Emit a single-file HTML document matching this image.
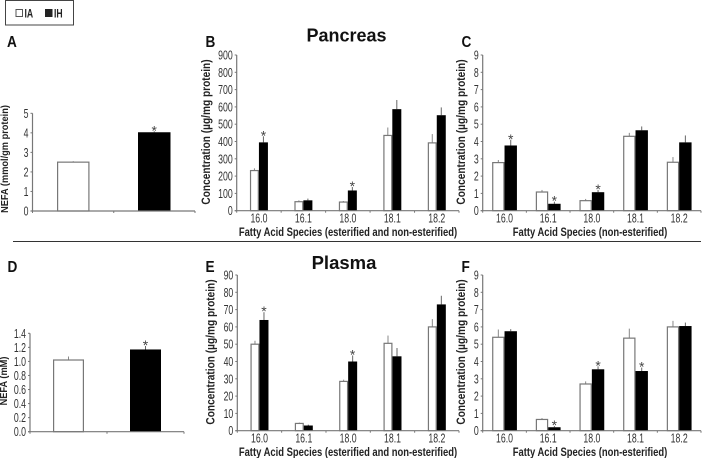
<!DOCTYPE html>
<html>
<head>
<meta charset="utf-8">
<style>
html,body{margin:0;padding:0;background:#fff;width:704px;height:458px;overflow:hidden}
svg{display:block;font-family:"Liberation Sans",sans-serif;filter:blur(0.35px)}
</style>
</head>
<body>
<svg id="fig" width="704" height="458" viewBox="0 0 704 458" xmlns="http://www.w3.org/2000/svg">
  <g>
    <rect x="5.5" y="0.5" width="68" height="24.5" fill="#fff" stroke="#444" stroke-width="1"/>
    <rect x="16" y="9.5" width="6.5" height="7" fill="#fff" stroke="#555" stroke-width="1"/>
    <text transform="translate(24.5,17.5) scale(.72,1)" font-size="12" font-weight="bold" fill="#222">IA</text>
    <rect x="45" y="9" width="7.5" height="8" fill="#222"/>
    <text transform="translate(54,17.5) scale(.72,1)" font-size="12" font-weight="bold" fill="#222">IH</text>
  </g>
  <line x1="13" y1="241.5" x2="701" y2="241.5" stroke="#333" stroke-width="1"/>
  <text x="346.5" y="41.5" font-size="18" font-weight="bold" text-anchor="middle" fill="#111">Pancreas</text>
  <text x="344" y="269" font-size="18.5" font-weight="bold" text-anchor="middle" fill="#111">Plasma</text>
</svg>
<script>
var speciesCategories = ['16.0','16.1','18.0','18.1','18.2'];

var ticksA = ['0','1','2','3','4','5'];
var ticksD = ['0.0','0.2','0.4','0.6','0.8','1.0','1.2','1.4'];
var ticksB = ['0','100','200','300','400','500','600','700','800','900'];
var ticksC = ['0','1','2','3','4','5','6','7','8','9'];
var ticksE = ['0','10','20','30','40','50','60','70','80','90'];
var ticksF = ['0','1','2','3','4','5','6','7','8','9'];

var iaA = [2.5];
var iaErrA = [0.05];
var ihA = [4.03];
var ihErrA = [0.05];
var sigA = [1];

var iaB = [232,52,50,435,392];
var iaErrB = [13,8,6,46,51];
var ihB = [395,60,117,587,552];
var ihErrB = [35,10,20,53,45];
var sigB = [1,0,1,0,0];

var iaC = [2.78,1.08,0.58,4.3,2.8];
var iaErrC = [0.15,0.12,0.1,0.2,0.3];
var ihC = [3.77,0.4,1.07,4.65,3.95];
var ihErrC = [0.33,0.12,0.13,0.22,0.4];
var sigC = [1,1,1,0,0];

var iaD = [1.02];
var iaErrD = [0.05];
var ihD = [1.17];
var ihErrD = [0.05];
var sigD = [1];

var iaE = [50,4.2,28.5,50.5,60];
var iaErrE = [2,0.5,1,4.5,4.5];
var ihE = [64,3,40,43,73];
var ihErrE = [4.5,0.5,3.5,4.8,5];
var sigE = [1,0,1,0,0];

var iaF = [5.4,0.65,2.7,5.35,6];
var iaErrF = [0.45,0.08,0.15,0.55,0.35];
var ihF = [5.75,0.2,3.55,3.45,6.05];
var ihErrF = [0.12,0.07,0.17,0.2,0.2];
var sigF = [0,1,1,1,0];

var svg = document.getElementById('fig');
var NS = 'http://www.w3.org/2000/svg';

function mk(tag, attrs, parent) {
  var el = document.createElementNS(NS, tag);
  for (var k in attrs) el.setAttribute(k, attrs[k]);
  parent.appendChild(el);
  return el;
}

function drawPanel(cfg) {
  var g = mk('g', {}, svg);
  
  

  var maxVal = parseFloat(cfg.ticks[cfg.ticks.length - 1]);
  function yScale(v) { return cfg.y0 - (v / maxVal) * (cfg.y0 - cfg.yTop); }
  var n = cfg.ia.length;
  var step = (cfg.xEnd - cfg.x0) / n;
  function xScale(i) { return cfg.x0 + step * (i + 0.5); }
  var colors = '#777';

  var letter = mk('text', {transform: 'translate(' + cfg.lx + ',' + cfg.ly + ') scale(.88,1)', 'font-size': 15.5, 'font-weight': 'bold', fill: '#111'}, g);
  letter.textContent = cfg.id;
  
  

  for (var i = 0; i < n; i++) {
    var c = xScale(i);
    var yIa = yScale(cfg.ia[i]);
    var yIh = yScale(cfg.ih[i]);
    var xIa = cfg.barOff ? c - cfg.barOff / 2 - cfg.barW : c - cfg.barW;
    var xIh = cfg.barOff ? c + cfg.barOff / 2 : c;
    var cIa = xIa + cfg.barW / 2;
    var cIh = xIh + cfg.barW / 2;

    var e1 = mk('line', {x1: cIa, x2: cIa, y1: yIa, y2: yScale(cfg.ia[i] + cfg.iaErr[i]), stroke: '#888', 'stroke-width': 1}, g);
    
    
    var e2 = mk('line', {x1: cIh, x2: cIh, y1: yIh, y2: yScale(cfg.ih[i] + cfg.ihErr[i]), stroke: '#666', 'stroke-width': 1}, g);
    
    

    var b1 = mk('rect', {x: xIa + 0.6, y: yIa, width: cfg.barW - 1.2, height: cfg.y0 - yIa, fill: '#fff', stroke: '#777', 'stroke-width': 1.2}, g);
    
    
    var b2 = mk('rect', {x: xIh, y: yIh, width: cfg.barW, height: cfg.y0 - yIh, fill: '#000'}, g);
    
    

    if (cfg.sig[i]) {
      var s = mk('text', {x: cIh, y: yScale(cfg.ih[i] + cfg.ihErr[i]) + 4, 'font-size': 14, 'text-anchor': 'middle', fill: '#444'}, g);
      s.textContent = '*';
      
      
    }

    if (cfg.cats) {
      var lab = mk('text', {transform: 'translate(' + c + ',' + (cfg.y0 + 12) + ') scale(.7,1)', 'font-size': 12.5, 'text-anchor': 'middle', fill: '#333'}, g);
      lab.textContent = cfg.cats[i];
      
      
    }
  }

  var yAxis = mk('line', {x1: cfg.x0, x2: cfg.x0, y1: cfg.yTop, y2: cfg.y0, stroke: colors, 'stroke-width': 1.2}, g);
  
  
  var xAxis = mk('line', {x1: cfg.x0 - 2, x2: cfg.xEnd, y1: cfg.y0, y2: cfg.y0, stroke: colors, 'stroke-width': 1.2}, g);
  
  

  for (var t = 0; t < cfg.ticks.length; t++) {
    var yy = yScale(parseFloat(cfg.ticks[t]));
    var tk = mk('line', {x1: cfg.x0 - 2, x2: cfg.x0, y1: yy, y2: yy, stroke: colors, 'stroke-width': 1}, g);
    
    
    var tl = mk('text', {transform: 'translate(' + (cfg.x0 - 4) + ',' + (yy + 4.5) + ') scale(.7,1)', 'font-size': 12.5, 'text-anchor': 'end', fill: '#333'}, g);
    tl.textContent = cfg.ticks[t];
    
    
  }
  var xTickCount = cfg.cats ? n + 1 : 3;
  for (var j = 0; j < xTickCount; j++) {
    var xx = cfg.x0 + (cfg.xEnd - cfg.x0) * j / (xTickCount - 1);
    var xt = mk('line', {x1: xx, x2: xx, y1: cfg.y0, y2: cfg.y0 + 2, stroke: colors, 'stroke-width': 1}, g);
    
    
  }

  var yt = mk('text', {transform: 'translate(' + cfg.ytx + ',' + cfg.yty + ') rotate(-90) scale(' + cfg.ytScale + ',1)', 'font-size': cfg.ytSize, 'font-weight': 'bold', 'text-anchor': 'middle', fill: '#222'}, g);
  yt.textContent = cfg.yTitle;
  
  

  if (cfg.xTitle) {
    var xtl = mk('text', {transform: 'translate(' + cfg.xtx + ',' + (cfg.y0 + 25.5) + ') scale(.82,1)', 'font-size': 11.5, 'font-weight': 'bold', 'text-anchor': 'middle', fill: '#222'}, g);
    xtl.textContent = cfg.xTitle;
    
    
  }
}

var concTitle = 'Concentration (\u00b5g/mg protein)';
var bothTitle = 'Fatty Acid Species (esterified and non-esterified)';
var nonTitle = 'Fatty Acid Species (non-esterified)';

drawPanel({id:'A', lx:7, ly:47, x0:32.5, xEnd:195, y0:211, yTop:113.3, barW:32.5, barOff:48.5, ticks:ticksA,
  ia:iaA, iaErr:iaErrA, ih:ihA, ihErr:ihErrA, sig:sigA, yTitle:'NEFA (mmol/gm protein)', ytx:8, yty:159, ytSize:10.5, ytScale:.88});
drawPanel({id:'B', lx:205.5, ly:47, x0:236.7, xEnd:459, y0:210.7, yTop:55, barW:9, barOff:0, ticks:ticksB, cats:speciesCategories,
  ia:iaB, iaErr:iaErrB, ih:ihB, ihErr:ihErrB, sig:sigB, yTitle:concTitle, ytx:210, yty:132, ytSize:11.5, ytScale:.88, xTitle:bothTitle, xtx:348});
drawPanel({id:'C', lx:461.5, ly:47, x0:482.7, xEnd:701, y0:210.7, yTop:55, barW:12.4, barOff:0, ticks:ticksC, cats:speciesCategories,
  ia:iaC, iaErr:iaErrC, ih:ihC, ihErr:ihErrC, sig:sigC, yTitle:concTitle, ytx:465, yty:132, ytSize:11.5, ytScale:.88, xTitle:nonTitle, xtx:590});
drawPanel({id:'D', lx:7.5, ly:272, x0:30, xEnd:184, y0:431.7, yTop:333.3, barW:31, barOff:46, ticks:ticksD,
  ia:iaD, iaErr:iaErrD, ih:ihD, ihErr:ihErrD, sig:sigD, yTitle:'NEFA (mM)', ytx:7, yty:381, ytSize:10.5, ytScale:.88});
drawPanel({id:'E', lx:205.5, ly:272, x0:237.3, xEnd:459, y0:430.7, yTop:275, barW:9, barOff:0, ticks:ticksE, cats:speciesCategories,
  ia:iaE, iaErr:iaErrE, ih:ihE, ihErr:ihErrE, sig:sigE, yTitle:concTitle, ytx:214.5, yty:352, ytSize:11.5, ytScale:.88, xTitle:bothTitle, xtx:348});
drawPanel({id:'F', lx:461.5, ly:272, x0:482.7, xEnd:701, y0:430.7, yTop:275, barW:12.4, barOff:0, ticks:ticksF, cats:speciesCategories,
  ia:iaF, iaErr:iaErrF, ih:ihF, ihErr:ihErrF, sig:sigF, yTitle:concTitle, ytx:465, yty:352, ytSize:11.5, ytScale:.88, xTitle:nonTitle, xtx:590});
</script>
</body>
</html>
